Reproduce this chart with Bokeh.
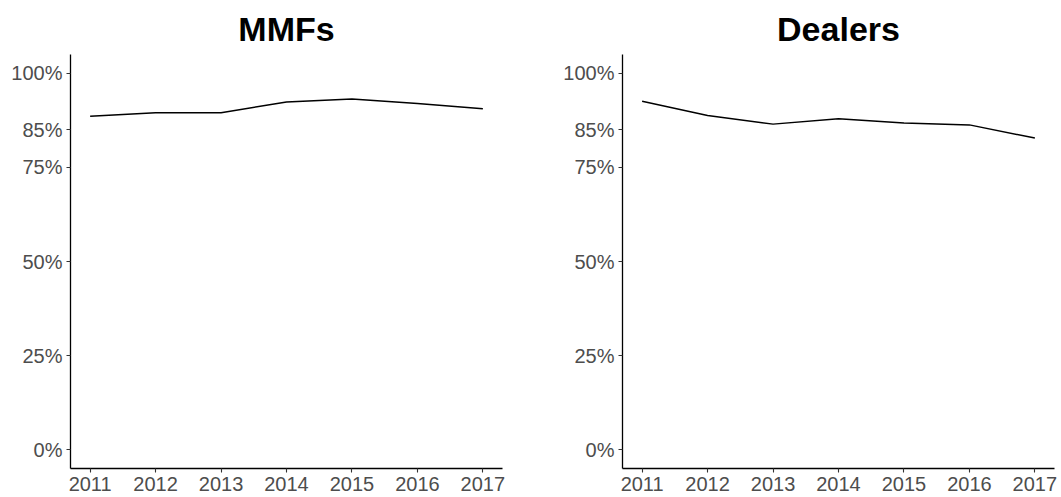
from bokeh.plotting import figure
from bokeh.layouts import row
from bokeh.models import Range1d, FixedTicker, CustomJSTickFormatter
from bokeh.embed import file_html
from bokeh.resources import INLINE

years = [2011, 2012, 2013, 2014, 2015, 2016, 2017]
mmfs = [88.6, 89.5, 89.5, 92.4, 93.2, 92.0, 90.6]
dealers = [92.6, 88.8, 86.5, 87.9, 86.8, 86.3, 82.8]
y_ticks = [0, 25, 50, 75, 85, 100]
titles = ["MMFs", "Dealers"]

FONT = "Liberation Sans"


def make_panel(title, ys, width, border_left, border_right):
    p = figure(width=width, height=497, output_backend="svg", toolbar_location=None,
               x_range=Range1d(2010.7, 2017.3), y_range=Range1d(-5, 105),
               min_border_left=border_left, min_border_right=border_right,
               min_border_top=54, min_border_bottom=29)
    p.title.text = title
    p.title.align = "center"
    p.title.vertical_align = "top"
    p.title.text_font = FONT
    p.title.text_font_size = "34px"
    p.title.text_font_style = "bold"
    p.title.text_color = "#000000"
    p.title.text_line_height = 0.9
    p.title.offset = 0
    p.title.standoff = 10
    p.outline_line_color = None
    p.xgrid.visible = False
    p.ygrid.visible = False
    p.background_fill_color = "white"
    p.border_fill_color = "white"

    p.line(years, ys, line_color="black", line_width=1.5)

    for ax in (p.xaxis[0], p.yaxis[0]):
        ax.axis_line_color = "black"
        ax.axis_line_width = 1.3
        ax.major_tick_line_color = "#333333"
        ax.major_tick_line_width = 1.1
        ax.major_tick_out = 4
        ax.major_tick_in = 0
        ax.minor_tick_line_color = None
        ax.major_label_text_font = FONT
        ax.major_label_text_font_size = "20px"
        ax.major_label_text_color = "#4D4D4D"
    p.xaxis.ticker = FixedTicker(ticks=years)
    p.xaxis.major_label_standoff = 4
    p.yaxis.ticker = FixedTicker(ticks=y_ticks)
    p.yaxis.major_label_standoff = 4
    p.yaxis.formatter = CustomJSTickFormatter(code="return tick + '%';")
    return p


p1 = make_panel(titles[0], mmfs, 530, 70, 28)
p2 = make_panel(titles[1], dealers, 531, 92, 7)
layout = row(p1, p2)

open("out.html", "w").write(file_html(layout, INLINE))
